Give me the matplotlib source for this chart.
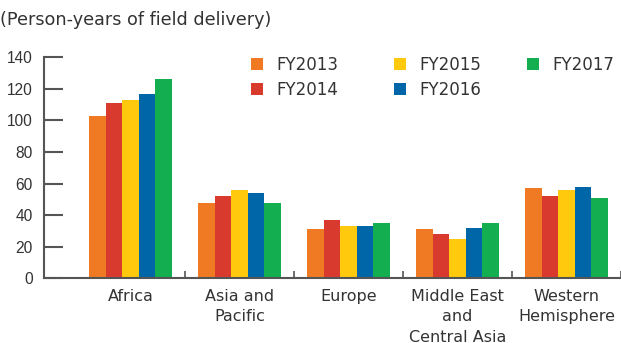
import matplotlib.pyplot as plt
import numpy as np

plt.rcParams['font.family'] = ['DejaVu Sans']

# regions and yearly values
regions = ['Africa', 'Asia and\nPacific', 'Europe', 'Middle East\nand\nCentral Asia', 'Western\nHemisphere']
years = ['FY2013', 'FY2014', 'FY2015', 'FY2016', 'FY2017']
fy2013 = [103, 48, 31, 31, 57]
fy2014 = [111, 52, 37, 28, 52]
fy2015 = [113, 56, 33, 25, 56]
fy2016 = [117, 54, 33, 32, 58]
fy2017 = [126, 48, 35, 35, 51]
series = [fy2013, fy2014, fy2015, fy2016, fy2017]
colors = ['#F07A23', '#D93A2E', '#FFC90E', '#0066A8', '#12AE50']

txt = '#333333'
axcol = '#555555'

fig = plt.figure(figsize=(6.21, 3.43), dpi=100)
ax = fig.add_axes([0.0709, 0.1886, 0.9291, 0.6444])

x = np.arange(len(regions))
bw = 0.152
bars = []
for i, (vals, c, lab) in enumerate(zip(series, colors, years)):
    bars.append(ax.bar(x + (i - 2) * bw, vals, width=bw, color=c, label=lab, linewidth=0))

ax.set_xlim(-0.793, 4.405)
ax.set_ylim(0, 140)
ax.set_yticks(range(0, 141, 20))
ax.tick_params(axis='y', direction='in', length=14, width=1.5, color=axcol,
               labelsize=11.2, labelcolor=txt, pad=8)
for t in ax.get_yticklabels():
    t.set_family('Liberation Sans')

# separators between the region groups
ax.set_xticks(x + 0.5, minor=True)
ax.set_xticks(x)
ax.set_xticklabels(regions, fontsize=11.5, color=txt, linespacing=1.42, va='top')
ax.tick_params(axis='x', which='major', length=0, pad=8)
ax.tick_params(axis='x', which='minor', direction='in', length=5, width=1.2, color=axcol)

for s in ['top', 'right']:
    ax.spines[s].set_visible(False)
for s in ['left', 'bottom']:
    ax.spines[s].set_color(axcol)
    ax.spines[s].set_linewidth(1.5)

fig.text(0.0, 0.943, '(Person-years of field delivery)', fontsize=12.7, color=txt,
         ha='left', va='center')

# legend: two columns of two, then FY2017 on its own
lkw = dict(frameon=False, fontsize=12, handlelength=0.72, handleheight=0.72,
           handletextpad=0.8, labelspacing=0.42, borderpad=0, borderaxespad=0,
           loc='upper left', bbox_transform=fig.transFigure, labelcolor=txt)
leg1 = fig.legend([bars[0], bars[1], bars[2], bars[3]], years[:4], ncol=2,
                  columnspacing=3.35, bbox_to_anchor=(0.404, 0.837), **lkw)
leg2 = fig.legend([bars[4]], years[4:], bbox_to_anchor=(0.848, 0.837), **lkw)

fig.savefig('out.png', dpi=100)
